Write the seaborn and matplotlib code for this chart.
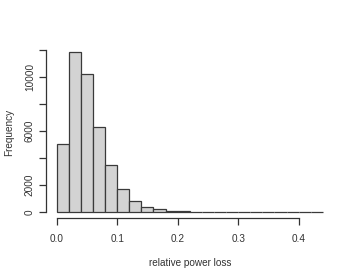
import numpy as np
import matplotlib
matplotlib.use("Agg")
import matplotlib.pyplot as plt
import seaborn as sns

# histogram bins (width 0.02)
bin_edges = [round(0.02 * i, 2) for i in range(23)]
counts = [5050, 11830, 10190, 6290, 3470, 1690, 840, 350, 200, 100,
          50, 25, 15, 10, 7, 5, 4, 3, 2, 2, 1, 1]
centers = [(a + b) / 2 for a, b in zip(bin_edges[:-1], bin_edges[1:])]

sns.set_style("white")
plt.rcParams["font.family"] = ["Liberation Sans", "DejaVu Sans"]

fig = plt.figure(figsize=(3.46, 2.77), dpi=100)
ax = fig.add_axes([0.133, 0.2116, 0.831, 0.6224])

sns.histplot(x=centers, weights=counts, bins=bin_edges, ax=ax,
             color="#D3D3D3", edgecolor="#3a3a3a", linewidth=0.9, alpha=1)

ax.set_xlim(-0.0176, 0.4576)
ax.set_ylim(-473, 12300)

# R-style detached axes
for s in ["top", "right"]:
    ax.spines[s].set_visible(False)
ax.spines["left"].set_bounds(0, 12000)
ax.spines["bottom"].set_bounds(0, 0.4)
for s in ["left", "bottom"]:
    ax.spines[s].set_color("#333333")
    ax.spines[s].set_linewidth(0.9)

ax.set_xticks([0.0, 0.1, 0.2, 0.3, 0.4])
ax.set_xticklabels(["0.0", "0.1", "0.2", "0.3", "0.4"])
ax.set_yticks([0, 2000, 4000, 6000, 8000, 10000, 12000])
ax.set_yticklabels(["0", "2000", "", "6000", "", "10000", ""], rotation=90, va="center")
ax.tick_params(axis="both", direction="out", length=5, width=0.9, color="#333333",
               labelsize=7.2, labelcolor="#333333", left=True, bottom=True)
ax.tick_params(axis="x", pad=6)
ax.tick_params(axis="y", pad=3)

ax.set_xlabel("relative power loss", fontsize=7.2, color="#333333", labelpad=10)
ax.set_ylabel("Frequency", fontsize=7.2, color="#333333", labelpad=8)
ax.grid(False)

fig.savefig("out.png", dpi=100)
